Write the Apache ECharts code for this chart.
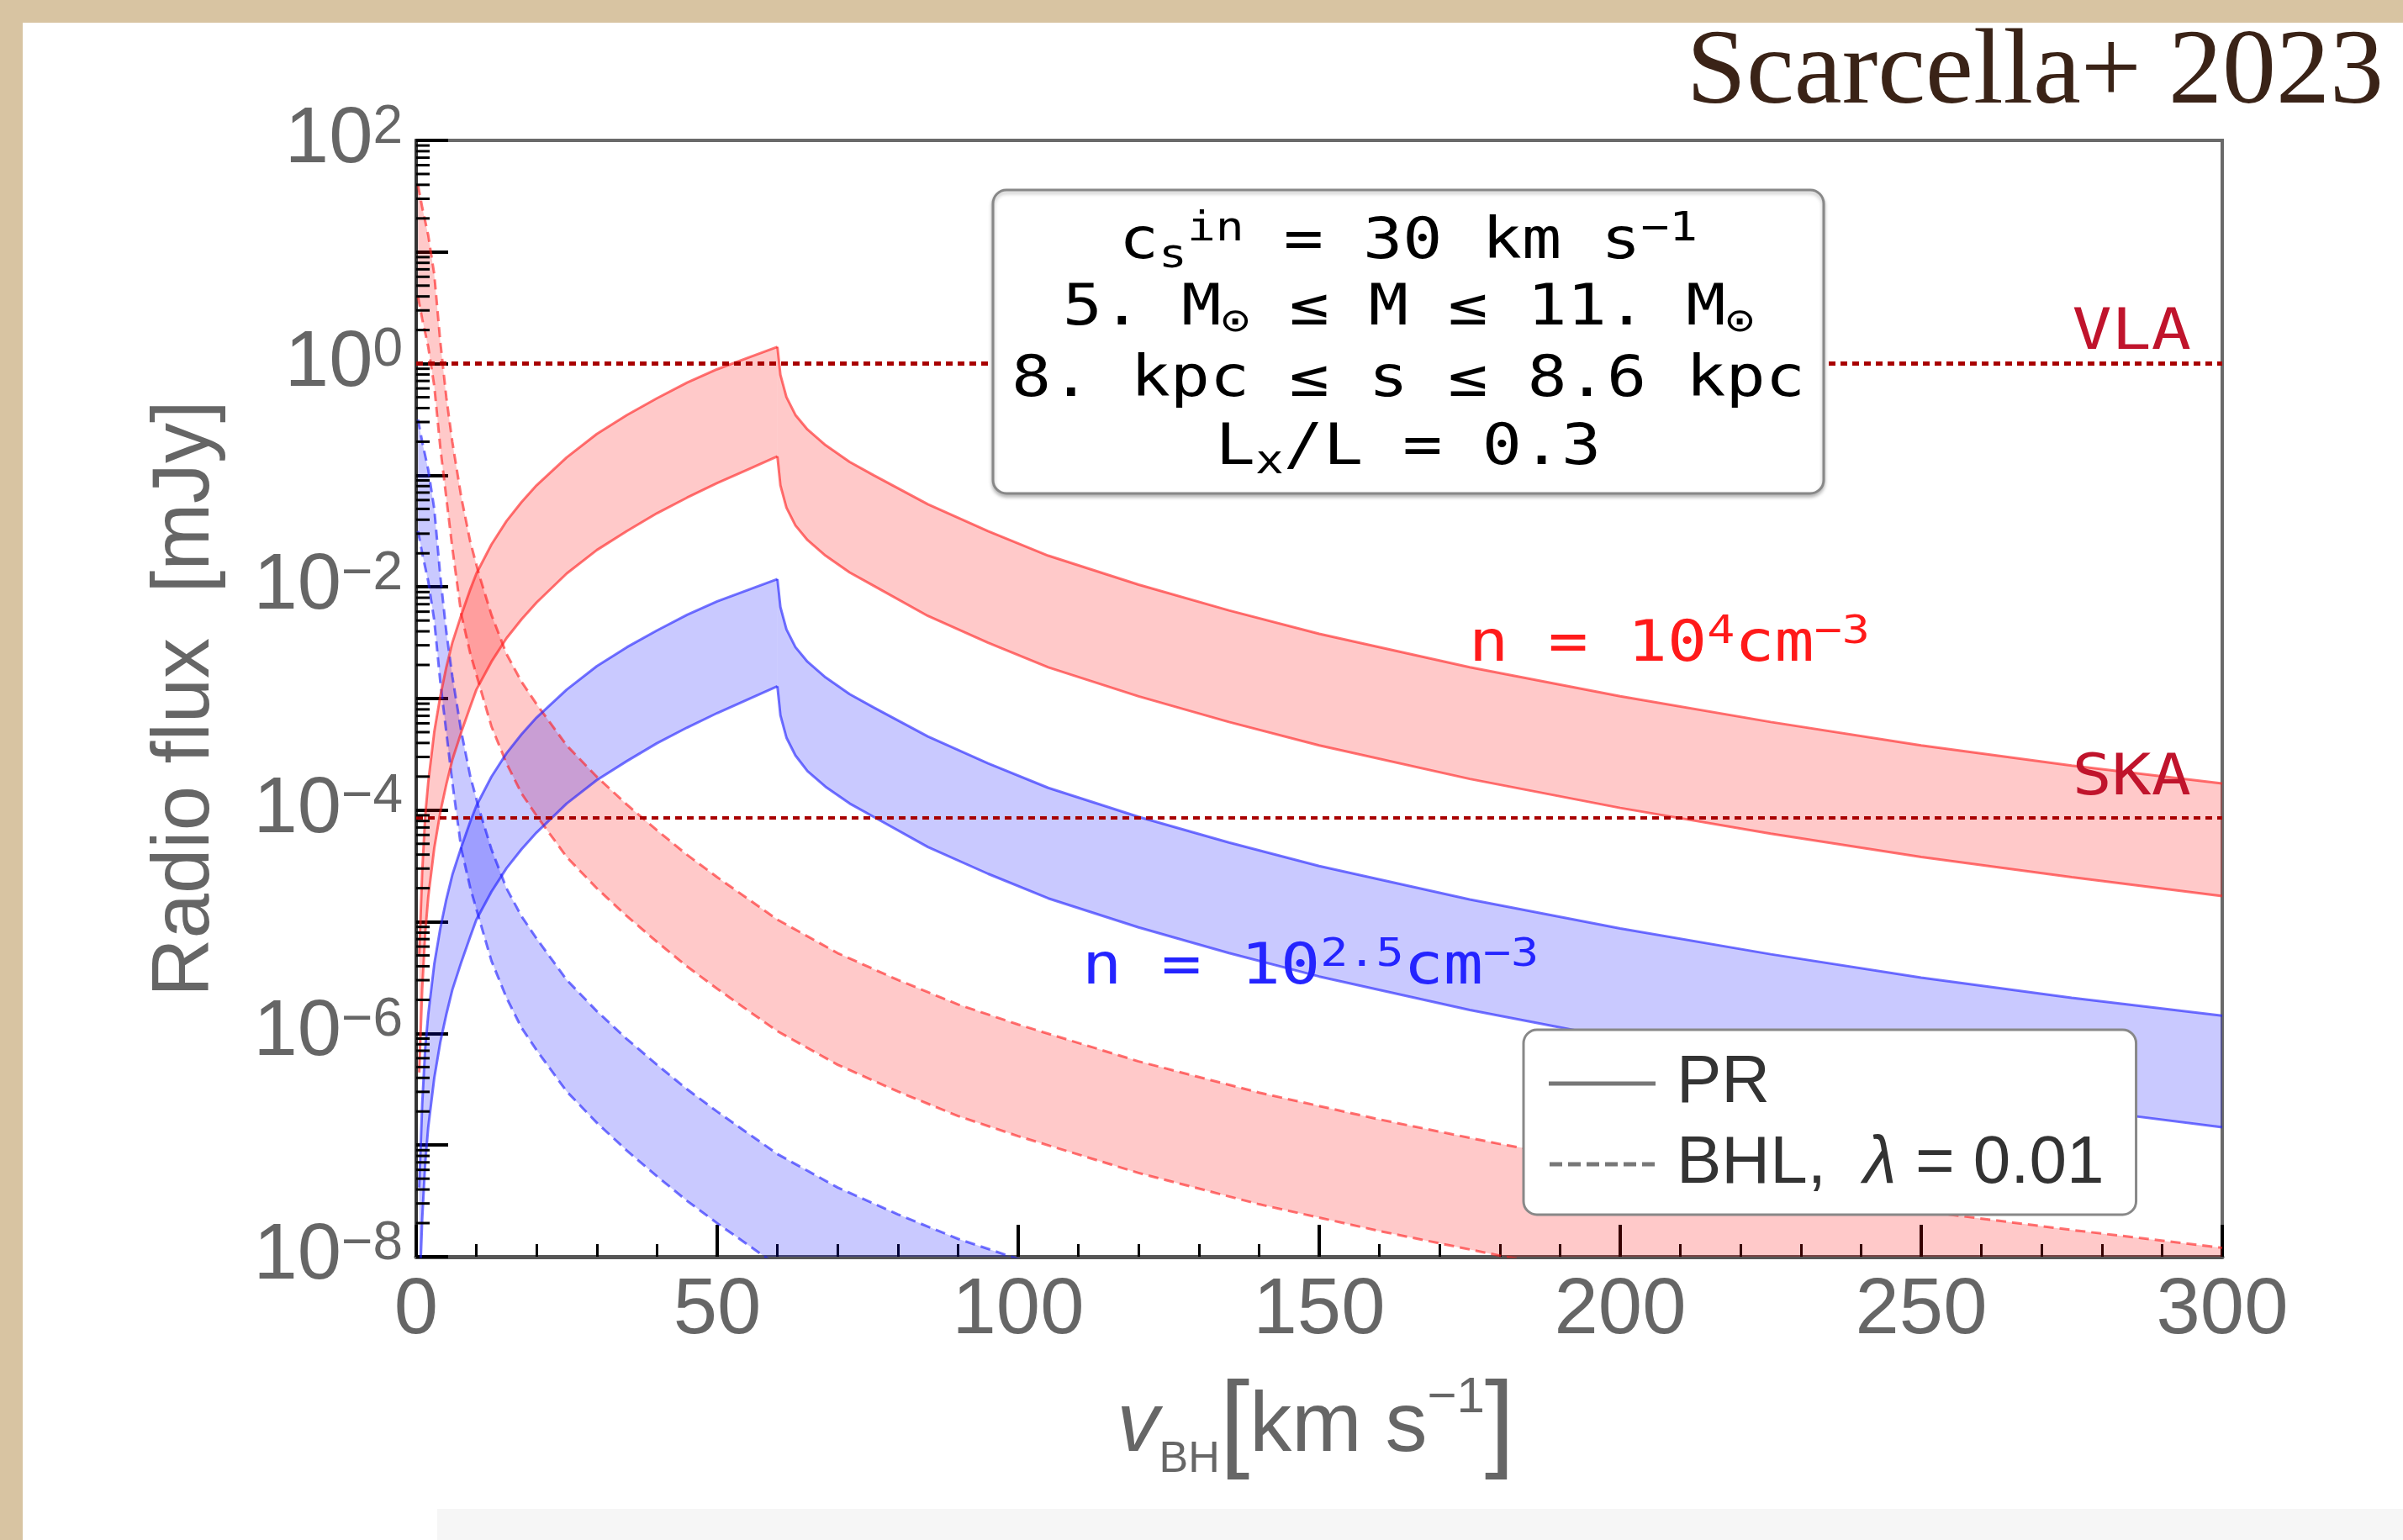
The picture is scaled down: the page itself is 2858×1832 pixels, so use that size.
<!DOCTYPE html>
<html>
<head>
<meta charset="utf-8">
<title>Radio flux vs BH velocity</title>
<script src="https://cdn.jsdelivr.net/npm/echarts@6.0.0/dist/echarts.min.js"></script>
<style>
  html, body { margin: 0; padding: 0; background: #d8c4a2; }
  #chart { width: 2858px; height: 1832px; }
</style>
</head>
<body>
<div id="chart"></div>
<script>
// All fluxes are log10(flux / mJy).
// PR model (solid), rising branch v <= 60 km/s
const vPrLeft = [0.5, 1, 1.5, 2, 3, 4, 5, 6, 7.5, 9, 10, 12.5, 15, 17.5, 20, 25, 30, 35, 40, 45, 50, 55, 60];
const prRedHiLeft = [-5.3, -4.55, -4.05, -3.75, -3.3, -2.98, -2.72, -2.5, -2.25, -2.02, -1.88, -1.62, -1.41, -1.24, -1.09, -0.84, -0.63, -0.46, -0.31, -0.17, -0.05, 0.05, 0.15];
const prRedLoLeft = [-6.35, -5.6, -5.1, -4.78, -4.34, -4.02, -3.77, -3.55, -3.3, -3.07, -2.92, -2.67, -2.46, -2.29, -2.14, -1.88, -1.67, -1.5, -1.34, -1.2, -1.07, -0.95, -0.83];
const prBlueHiLeft = [-7.38, -6.63, -6.13, -5.83, -5.38, -5.06, -4.8, -4.58, -4.33, -4.1, -3.96, -3.7, -3.49, -3.32, -3.17, -2.92, -2.71, -2.54, -2.39, -2.25, -2.13, -2.03, -1.93];
const prBlueLoLeft = [-8.41, -7.66, -7.16, -6.84, -6.4, -6.08, -5.83, -5.61, -5.36, -5.13, -4.98, -4.73, -4.52, -4.35, -4.2, -3.94, -3.73, -3.56, -3.4, -3.26, -3.13, -3.01, -2.89];

// PR model, falling branch v >= 60 km/s
const vPrRight = [60, 60.5, 61.5, 63, 65, 68, 72, 76, 85, 95, 105, 120, 135, 150, 175, 200, 225, 250, 275, 300];
const prRedHiRight = [0.15, -0.1, -0.3, -0.46, -0.59, -0.73, -0.88, -1.0, -1.26, -1.5, -1.72, -1.98, -2.21, -2.42, -2.72, -2.98, -3.21, -3.42, -3.6, -3.76];
const prRedLoRight = [-0.83, -1.09, -1.29, -1.45, -1.58, -1.72, -1.87, -1.99, -2.26, -2.5, -2.72, -2.98, -3.21, -3.42, -3.72, -3.98, -4.21, -4.42, -4.6, -4.77];
const prBlueHiRight = [-1.93, -2.18, -2.38, -2.54, -2.67, -2.81, -2.96, -3.08, -3.34, -3.58, -3.8, -4.06, -4.29, -4.5, -4.8, -5.06, -5.29, -5.5, -5.68, -5.84];
const prBlueLoRight = [-2.89, -3.15, -3.35, -3.51, -3.65, -3.79, -3.94, -4.06, -4.33, -4.57, -4.79, -5.05, -5.28, -5.49, -5.79, -6.05, -6.28, -6.49, -6.67, -6.84];

// BHL model, lambda = 0.01 (dashed)
const vBhlRed = [0.3, 1, 2, 3, 4, 5, 6, 7.5, 9, 10.5, 12.5, 15, 17.5, 20, 25, 30, 35, 40, 45, 50, 60, 70, 80, 90, 100, 120, 140, 160, 180, 200, 225, 250, 275, 300];
const bhlRedHi = [1.6, 1.4, 1.15, 0.8, 0.2, -0.3, -0.7, -1.2, -1.6, -1.9, -2.25, -2.6, -2.85, -3.05, -3.42, -3.7, -3.95, -4.18, -4.4, -4.6, -4.98, -5.28, -5.52, -5.74, -5.92, -6.25, -6.53, -6.77, -6.99, -7.18, -7.4, -7.59, -7.76, -7.92];
const bhlRedLo = [0.6, 0.4, 0.15, -0.2, -0.75, -1.2, -1.65, -2.25, -2.6, -2.88, -3.25, -3.58, -3.85, -4.05, -4.42, -4.7, -4.95, -5.18, -5.4, -5.6, -5.98, -6.28, -6.52, -6.74, -6.92, -7.25, -7.53, -7.77, -7.99, -8.18, -8.4, -8.59, -8.76, -8.92];
const vBhlBlue = [0.3, 1, 2, 3, 4, 5, 6, 7.5, 9, 10.5, 12.5, 15, 17.5, 20, 25, 30, 35, 40, 45, 50, 60, 70, 80, 90, 100, 120];
const bhlBlueHi = [-0.5, -0.7, -0.95, -1.3, -1.9, -2.4, -2.8, -3.3, -3.7, -4.0, -4.35, -4.7, -4.95, -5.15, -5.52, -5.8, -6.05, -6.28, -6.5, -6.7, -7.08, -7.38, -7.62, -7.84, -8.02, -8.35];
const bhlBlueLo = [-1.5, -1.7, -1.95, -2.3, -2.85, -3.3, -3.75, -4.35, -4.7, -4.98, -5.35, -5.68, -5.95, -6.15, -6.52, -6.8, -7.05, -7.28, -7.5, -7.7, -8.08, -8.38, -8.62, -8.84, -9.02, -9.35];

// detector sensitivities
const detectorNames = ['VLA', 'SKA'];
const detectorLimits = [0, -4.07];

// axes
const xTickLabels = ['0', '50', '100', '150', '200', '250', '300'];
const yDecades = [-8, -7, -6, -5, -4, -3, -2, -1, 0, 1];
const minorFactors = [2, 3, 4, 5, 6, 7, 8, 9];
const legendNames = ['PR', 'BHL'];

const RED_FILL = 'rgba(255, 0, 0, 0.21)';
const BLUE_FILL = 'rgba(0, 0, 255, 0.21)';
const RED_LINE = 'rgba(255, 30, 30, 0.62)';
const BLUE_LINE = 'rgba(30, 30, 255, 0.62)';
const DASH = [12, 7];
const SANS = 'Liberation Sans';
const MONO = 'DejaVu Sans Mono';

function band(vs, hi, lo, fill) {
    return {
        type: 'custom',
        silent: true,
        clip: true,
        z: 2,
        data: [0],
        renderItem: (params, api) => {
            const upper = vs.map((v, i) => api.coord([v, hi[i]]));
            const lower = vs.map((v, i) => api.coord([v, lo[i]])).reverse();
            return {
                type: 'polygon',
                shape: { points: upper.concat(lower) },
                style: { fill: fill }
            };
        }
    };
}

function edge(vs, vals, color, dashed) {
    return {
        type: 'line',
        silent: true,
        symbol: 'none',
        clip: true,
        z: 3,
        data: vs.map((v, i) => [v, vals[i]]),
        lineStyle: { color: color, width: 3, type: dashed ? DASH : 'solid' }
    };
}

const series = [
    band(vBhlRed, bhlRedHi, bhlRedLo, RED_FILL),
    band(vBhlBlue, bhlBlueHi, bhlBlueLo, BLUE_FILL),
    band(vPrLeft, prRedHiLeft, prRedLoLeft, RED_FILL),
    band(vPrRight, prRedHiRight, prRedLoRight, RED_FILL),
    band(vPrLeft, prBlueHiLeft, prBlueLoLeft, BLUE_FILL),
    band(vPrRight, prBlueHiRight, prBlueLoRight, BLUE_FILL),
    edge(vBhlRed, bhlRedHi, RED_LINE, true),
    edge(vBhlRed, bhlRedLo, RED_LINE, true),
    edge(vBhlBlue, bhlBlueHi, BLUE_LINE, true),
    edge(vBhlBlue, bhlBlueLo, BLUE_LINE, true),
    edge(vPrLeft, prRedHiLeft, RED_LINE, false),
    edge(vPrLeft, prRedLoLeft, RED_LINE, false),
    edge(vPrRight, prRedHiRight, RED_LINE, false),
    edge(vPrRight, prRedLoRight, RED_LINE, false),
    edge(vPrLeft, prBlueHiLeft, BLUE_LINE, false),
    edge(vPrLeft, prBlueLoLeft, BLUE_LINE, false),
    edge(vPrRight, prBlueHiRight, BLUE_LINE, false),
    edge(vPrRight, prBlueLoRight, BLUE_LINE, false)
];

// sensitivity lines
detectorLimits.forEach((lim, i) => {
    series.push({
        name: detectorNames[i],
        type: 'line',
        silent: true,
        symbol: 'none',
        z: 6,
        data: [[0, lim], [300, lim]],
        lineStyle: { color: '#a80000', width: i === 0 ? 5 : 4, type: [8, 6] }
    });
});

// log minor ticks on the y axis
series.push({
    type: 'custom',
    silent: true,
    z: 7,
    data: [0],
    renderItem: (params, api) => {
        const children = [];
        yDecades.forEach(d => {
            minorFactors.forEach(k => {
                const p = api.coord([0, d + Math.log10(k)]);
                children.push({
                    type: 'line',
                    shape: { x1: p[0], y1: p[1], x2: p[0] + 16, y2: p[1] },
                    style: { stroke: '#000', lineWidth: 3 }
                });
            });
        });
        return { type: 'group', children: children };
    }
});

// legend-only series
legendNames.forEach(name => {
    series.push({ name: name, type: 'line', symbol: 'none', data: [],
        itemStyle: { color: '#777' }, lineStyle: { color: '#777', width: 5 } });
});

const monoRich = {
    m: { fontSize: 67, fontFamily: MONO, fill: '#000', lineHeight: 80 },
    sub: { fontSize: 48, fontFamily: MONO, fill: '#000', verticalAlign: 'bottom', lineHeight: 43 },
    sup: { fontSize: 48, fontFamily: MONO, fill: '#000', verticalAlign: 'top', lineHeight: 31 }
};

function monoLine(text, x, baseline, align, rich) {
    return {
        type: 'text',
        x: x,
        y: baseline - 23,
        scaleX: 1.17,
        z: 101,
        style: { text: text, align: align, verticalAlign: 'middle', rich: rich }
    };
}

function labelRich(color) {
    return {
        m: { fontSize: 67, fontFamily: MONO, fill: color, lineHeight: 80 },
        sup: { fontSize: 47, fontFamily: MONO, fill: color, verticalAlign: 'top', lineHeight: 22 }
    };
}

const chart = echarts.init(document.getElementById('chart'), null, { renderer: 'canvas' });

chart.setOption({
    animation: false,
    backgroundColor: '#d8c4a2',
    grid: {
        left: 495, right: 215, top: 167, bottom: 337,
        show: true, borderColor: '#6a6a6a', borderWidth: 4, backgroundColor: 'transparent'
    },
    xAxis: {
        type: 'value',
        min: 0, max: 300, interval: 50,
        axisLine: { onZero: false, lineStyle: { color: '#555', width: 5 } },
        axisTick: { inside: true, length: 38, lineStyle: { color: '#000', width: 4 } },
        minorTick: { show: true, splitNumber: 5, length: 15, lineStyle: { color: '#000', width: 3 } },
        splitLine: { show: false },
        axisLabel: {
            margin: 18, fontSize: 94, color: '#666', fontFamily: SANS,
            formatter: (val) => xTickLabels[Math.round(val / 50)]
        }
    },
    yAxis: {
        type: 'value',
        min: -8, max: 2, interval: 1,
        axisLine: { onZero: false, lineStyle: { color: '#333', width: 4 } },
        axisTick: { inside: true, length: 38, lineStyle: { color: '#000', width: 4 } },
        splitLine: { show: false },
        axisLabel: {
            margin: 16,
            formatter: (val) => {
                if (Math.abs(val % 2) !== 0) return '';
                const e = val < 0 ? '\u2212' + (-val) : String(val);
                return '{b|10}{s|' + e + '}';
            },
            rich: {
                b: { fontSize: 94, color: '#666', fontFamily: SANS, lineHeight: 94 },
                s: { fontSize: 64, color: '#666', fontFamily: SANS, verticalAlign: 'top', lineHeight: 40 }
            }
        }
    },
    legend: {
        data: [
            { name: legendNames[0], icon: 'path://M0,0H127V5H0Z', itemStyle: { color: '#777' } },
            { name: legendNames[1],
              icon: 'path://M0,0H15V5H0Z M22,0H37V5H22Z M44,0H59V5H44Z M66,0H81V5H66Z M88,0H103V5H88Z M110,0H125V5H110Z',
              itemStyle: { color: '#777' } }
        ],
        orient: 'vertical',
        left: 1812, top: 1225,
        padding: [24, 38, 20, 30],
        itemWidth: 127, itemHeight: 5, itemGap: 16,
        selectedMode: false,
        backgroundColor: '#fff',
        borderColor: '#888', borderWidth: 3, borderRadius: 16,
        formatter: (name) => name === 'BHL'
            ? '{t|BHL,  }{i|\u03bb}{t| = 0.01}'
            : '{t|' + name + '}',
        textStyle: {
            padding: [0, 0, 0, 20],
            rich: {
                t: { fontSize: 80, color: '#333', fontFamily: SANS, lineHeight: 80 },
                i: { fontSize: 80, color: '#333', fontFamily: SANS, fontStyle: 'italic', lineHeight: 80 }
            }
        }
    },
    graphic: [
        // paper background
        { type: 'rect', z: -100, shape: { x: 27, y: 27, width: 2831, height: 1805 }, style: { fill: '#fff' } },
        { type: 'rect', z: -99, shape: { x: 520, y: 1795, width: 2338, height: 37 }, style: { fill: '#f6f6f6' } },
        // credit
        {
            type: 'text', x: 2835, y: 88, z: 100,
            style: { text: 'Scarcella+ 2023', align: 'right', verticalAlign: 'middle',
                fill: '#3a2317', fontSize: 128, fontFamily: 'Liberation Serif' }
        },
        // y axis title
        {
            type: 'text', x: 222, y: 831, rotation: Math.PI / 2, z: 100,
            style: { text: 'Radio flux  [mJy]', align: 'center', verticalAlign: 'middle',
                fill: '#666', fontSize: 96, fontFamily: SANS }
        },
        // x axis title
        {
            type: 'text', x: 1565, y: 1698, z: 100,
            style: {
                text: '{v|v}{sub|BH}{br|[}{t|km s}{sup|\u22121}{br|]}',
                align: 'center', verticalAlign: 'middle',
                rich: {
                    v: { fontSize: 100, fontStyle: 'italic', fontFamily: SANS, fill: '#666', lineHeight: 130 },
                    t: { fontSize: 100, fontFamily: SANS, fill: '#666', lineHeight: 130 },
                    br: { fontSize: 128, fontFamily: SANS, fill: '#666', lineHeight: 130 },
                    sub: { fontSize: 52, fontFamily: SANS, fill: '#666', verticalAlign: 'bottom', lineHeight: 66 },
                    sup: { fontSize: 60, fontFamily: SANS, fill: '#666', verticalAlign: 'top', lineHeight: 76 }
                }
            }
        },
        // parameter box
        {
            type: 'rect', z: 100,
            shape: { x: 1181, y: 226, width: 988, height: 361, r: 16 },
            style: { fill: '#fff', stroke: '#888', lineWidth: 3, shadowColor: 'rgba(0,0,0,0.25)', shadowBlur: 4, shadowOffsetY: 3 }
        },
        monoLine('{m|c}{sub|s}{sup|in}{m| = 30 km s}{sup|\u22121}', 1675, 313, 'center', monoRich),
        monoLine('{m|5. M}{sub|\u2299}{m| \u2264 M \u2264 11. M}{sub|\u2299}', 1675, 392, 'center', monoRich),
        monoLine('{m|8. kpc \u2264 s \u2264 8.6 kpc}', 1675, 477, 'center', monoRich),
        monoLine('{m|L}{sub|x}{m|/L = 0.3}', 1675, 558, 'center', monoRich),
        // detector labels
        monoLine('{m|' + detectorNames[0] + '}', 2606, 421, 'right', labelRich('#c0142c')),
        monoLine('{m|' + detectorNames[1] + '}', 2606, 951, 'right', labelRich('#c0142c')),
        // density labels
        monoLine('{m|n = 10}{sup|4}{m|cm}{sup|\u22123}', 1747, 792, 'left', labelRich('#ff1a1a')),
        monoLine('{m|n = 10}{sup|2.5}{m|cm}{sup|\u22123}', 1287, 1176, 'left', labelRich('#2424ff'))
    ],
    series: series
});
</script>
</body>
</html>
